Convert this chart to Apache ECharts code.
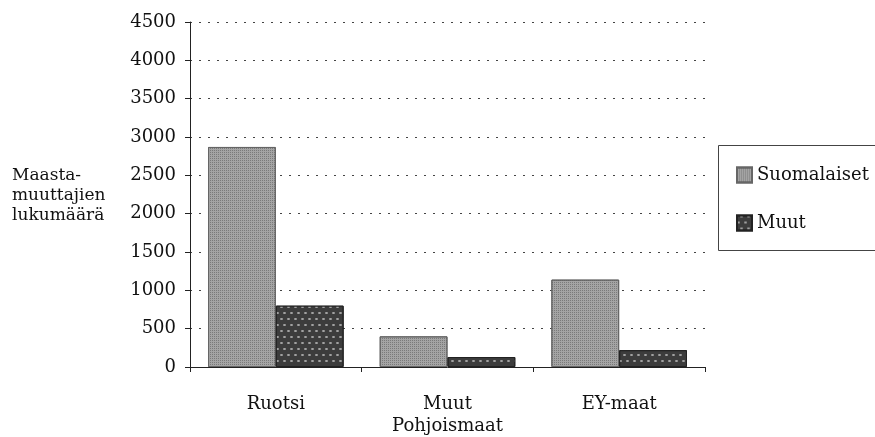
<!DOCTYPE html>
<html>
<head>
<meta charset="utf-8">
<script src="https://cdn.jsdelivr.net/npm/echarts@6/dist/echarts.min.js"></script>
<style>
  html, body { margin: 0; padding: 0; background: #fff; }
  #chart { width: 875px; height: 437px; }
</style>
</head>
<body>
<div id="chart"></div>
<script>
// maat (luokat)
const categories = ['Ruotsi', 'Muut\nPohjoismaat', 'EY-maat'];
// maastamuuttajien lukumäärä
const suomalaiset = [2870, 400, 1140];
const muut = [800, 130, 220];
const yTicks = { min: 0, max: 4500, step: 500 };

const serif = '"DejaVu Serif", "Liberation Serif", serif';
const chart = echarts.init(document.getElementById('chart'));

const option = {
  backgroundColor: '#fff',
  animation: false,
  textStyle: { fontFamily: serif, color: '#111' },
  grid: { left: 190, right: 170, top: 22, bottom: 67 },
  legend: {
    orient: 'vertical',
    left: 731,
    top: 160,
    itemWidth: 15,
    itemHeight: 15,
    itemGap: 28,
    icon: 'rect',
    textStyle: { fontFamily: serif, fontSize: 18, lineHeight: 20, color: '#111' },
    data: ['Suomalaiset', 'Muut']
  },
  graphic: [
    {
      type: 'rect',
      left: 716,
      top: 143,
      shape: { width: 200, height: 105 },
      style: { fill: 'none', stroke: '#444', lineWidth: 1 }
    },
    {
      type: 'text',
      left: 12,
      top: 166,
      style: {
        text: 'Maasta-\nmuuttajien\nlukumäärä',
        font: '17px ' + serif,
        lineHeight: 20,
        fill: '#111'
      }
    }
  ],
  xAxis: {
    type: 'category',
    data: categories,
    boundaryGap: true,
    axisLine: { lineStyle: { color: '#222', width: 1 } },
    axisTick: { show: true, alignWithLabel: false, length: 5, lineStyle: { color: '#222' } },
    axisLabel: { fontFamily: serif, fontSize: 18, color: '#111', margin: 26, lineHeight: 22 }
  },
  yAxis: {
    type: 'value',
    min: yTicks.min,
    max: yTicks.max,
    interval: yTicks.step,
    axisLine: { show: true, lineStyle: { color: '#222', width: 1 } },
    axisTick: { show: true, length: 5, lineStyle: { color: '#222' } },
    axisLabel: {
      fontFamily: serif, fontSize: 18, color: '#111', margin: 14,
      formatter: function (v) { return String(v); }
    },
    splitLine: { show: true, lineStyle: { color: '#444', type: [2, 7], width: 1 } }
  },
  series: [
    {
      name: 'Suomalaiset',
      type: 'bar',
      data: suomalaiset,
      barGap: '0%',
      barCategoryGap: '21%',
      itemStyle: {
        color: '#a4a4a4',
        borderColor: '#666',
        borderWidth: 1,
        decal: {
          symbol: 'rect',
          symbolSize: 1,
          color: 'rgba(70,70,70,0.45)',
          dashArrayX: [1, 1],
          dashArrayY: [1, 1],
          rotation: 0
        }
      }
    },
    {
      name: 'Muut',
      type: 'bar',
      data: muut,
      itemStyle: {
        color: '#3c3c3c',
        borderColor: '#222',
        borderWidth: 1,
        decal: {
          symbol: 'rect',
          symbolSize: 0.8,
          color: 'rgba(230,230,230,0.75)',
          dashArrayX: [[3, 4], [0, 3, 3, 1]],
          dashArrayY: [2, 4],
          rotation: 0
        }
      }
    }
  ]
};

chart.setOption(option);
</script>
</body>
</html>
